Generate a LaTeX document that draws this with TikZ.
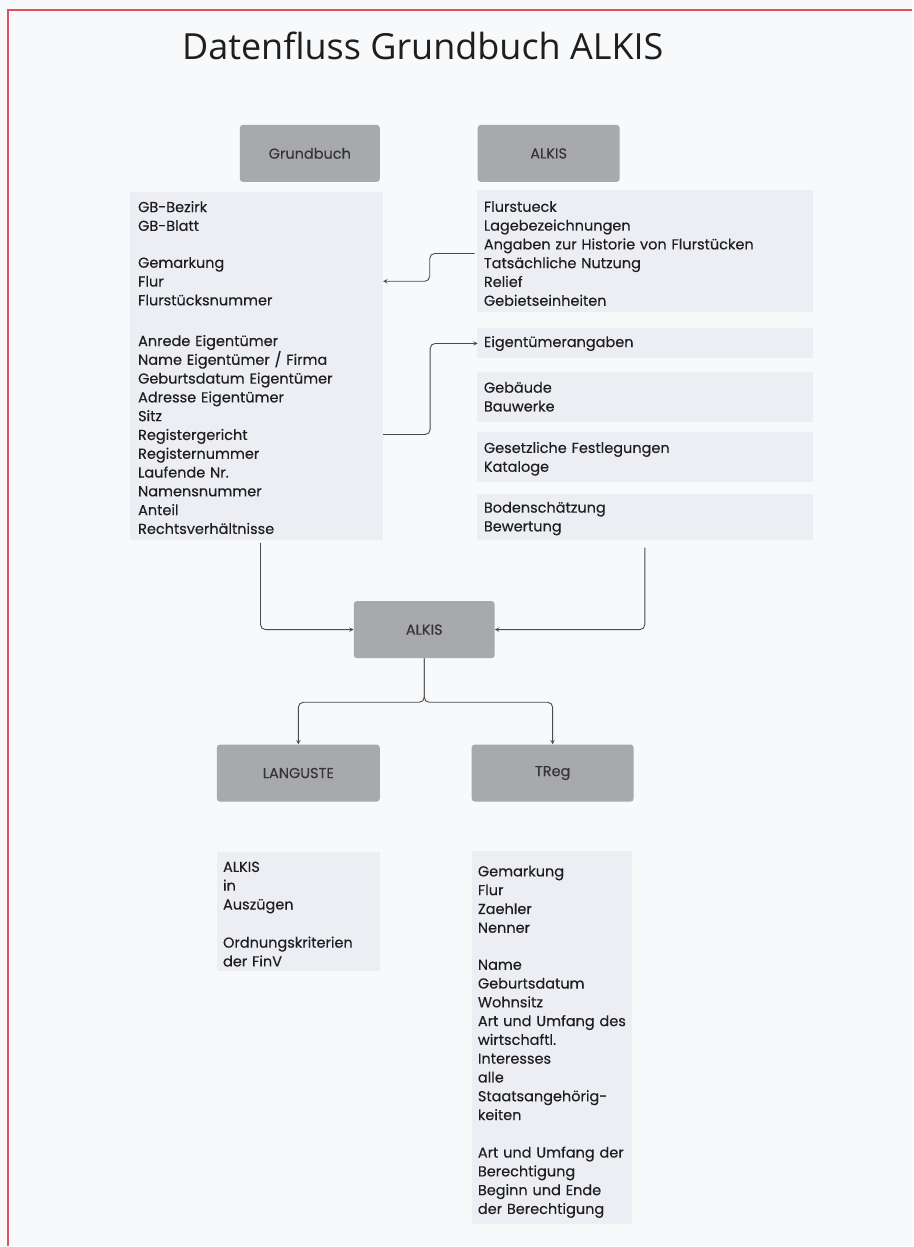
\documentclass[tikz,border=0pt]{standalone}
\usepackage{fontspec}
\setmainfont{Poppins}
\newfontfamily\listfont{Poppins}[FakeBold=0.25]
\newfontfamily\titlefont{Open Sans}
\definecolor{boxgray}{HTML}{A8A9AC}
\definecolor{panelblue}{HTML}{ECEEF4}
\definecolor{paper}{HTML}{F8F9FB}
\definecolor{ink}{HTML}{1E1E1E}
\definecolor{frame}{HTML}{E0505E}

\begin{document}
\begin{tikzpicture}
[x=1pt,y=-1pt,
  boxDecorate/.style={shape=rectangle,fill=boxgray,rounded corners=3pt,
    minimum height=57pt,text=ink!90,font=\listfont\fontsize{14.5}{16}\selectfont},
  listDecorate/.style={anchor=north west,inner sep=0pt,align=left,
    text=ink,font=\listfont\fontsize{14.5}{18.8}\selectfont},
  panelDecorate/.style={fill=panelblue},
  lineDecorate/.style={draw=ink!80,line width=0.9pt,rounded corners=5pt},
  arrowDecorate/.style={lineDecorate,-stealth}]
%% page and frame
\fill[paper] (0,0) rectangle (913,1247);
\draw[frame,line width=1.5pt] (8,1247) -- (8,10) -- (913,10);
%% panels behind the lists
\foreach \xa/\ya/\xb/\yb in {
  130/192/383/540, 477/190/813/312, 477/328/813/358, 477/372/813/422,
  477/432/813/482, 477/494/813/540, 217/853/380/972, 472/852/632/1225}
{
  \fill[panelDecorate] (\xa,\ya) rectangle (\xb,\yb);
}
%% title
\node (title) at (423,60) [anchor=base,text=ink,
  font=\titlefont\fontsize{36}{40}\selectfont] {Datenfluss Grundbuch ALKIS};
%% boxes
\foreach \nodename/\x/\y/\w/\label in {
  grundbuch/310/153.5/140/Grundbuch, alkisTop/549/153.5/142/ALKIS,
  alkisMid/424.5/630/141/ALKIS, languste/298.5/773.5/163/LANGUSTE,
  treg/553/773.5/162/TReg}
{
  \node (\nodename) at (\x,\y) [boxDecorate,minimum width=\w pt] {\label};
}
%% lists
\foreach \nodename/\x/\y/\w/\txt in {
  gbBlatt/138/201/245/{GB-Bezirk\\GB-Blatt},
  gbFlur/138/257/245/{Gemarkung\\Flur\\Flurstücksnummer},
  gbEigen/138/335/245/{Anrede Eigentümer\\Name Eigentümer / Firma\\Geburtsdatum Eigentümer\\Adresse Eigentümer\\Sitz\\Registergericht\\Registernummer\\Laufende Nr.\\Namensnummer\\Anteil\\Rechtsverhältnisse},
  alkisLage/484/201/322/{Flurstueck\\Lagebezeichnungen\\Angaben zur Historie von Flurstücken\\Tatsächliche Nutzung\\Relief\\Gebietseinheiten},
  eigAng/484/336/322/{Eigentümerangaben},
  alkisGeb/484/382/322/{Gebäude\\Bauwerke},
  alkisKat/484/442/322/{Gesetzliche Festlegungen\\Kataloge},
  alkisBoden/484/502/322/{Bodenschätzung\\Bewertung},
  langAuszug/223/862/157/{ALKIS\\in\\Auszügen},
  langFinv/223/937/157/{Ordnungskriterien\\der FinV},
  tregFlur/478/866/154/{Gemarkung\\Flur\\Zaehler\\Nenner},
  tregName/478/960/154/{Name\\Geburtsdatum\\Wohnsitz\\Art und Umfang des\\wirtschaftl.\\Interesses\\alle\\Staatsangehörig-\\keiten},
  tregRecht/478/1147/154/{Art und Umfang der\\Berechtigung\\Beginn und Ende\\der Berechtigung}}
{
  \node (\nodename) at (\x,\y) [listDecorate,text width=\w pt] {\txt};
}
%% connectors
\draw[arrowDecorate,shorten <=9pt] (alkisLage.west) -- ++(-54,0) |- (gbFlur.east);
\draw[arrowDecorate,shorten >=6pt] (gbEigen.east) -- ++(47,0) |- (eigAng.west);
\draw[arrowDecorate] ([yshift=-9pt]gbEigen.south) |- (alkisMid.west);
\draw[arrowDecorate] ([yshift=-12pt]alkisBoden.south) |- (alkisMid.east);
\foreach \endnode in {languste,treg}
{
  \draw[arrowDecorate] (alkisMid.south) -- ++(0,44) -| (\endnode.north);
}
\end{tikzpicture}
\end{document}
